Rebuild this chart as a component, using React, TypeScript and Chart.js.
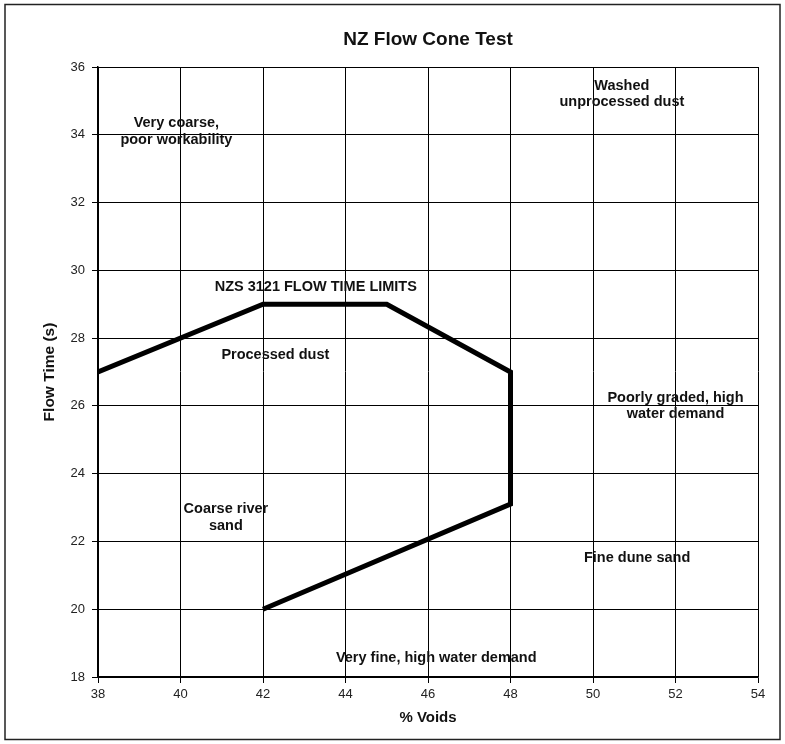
import React, { useEffect, useRef } from "react";
import { Chart, registerables } from "chart.js";

Chart.register(...registerables);

const chartTitle = "NZ Flow Cone Test";

const voids = [38, 42, 45, 48, 48, 42];
const flowTime = [27, 29, 29, 27, 23.1, 20];

const xTicks = [38, 40, 42, 44, 46, 48, 50, 52, 54];
const yTicks = [18, 20, 22, 24, 26, 28, 30, 32, 34, 36];

const noteTexts = [
  ["Washed", "unprocessed dust"],
  ["Very coarse,", "poor workability"],
  ["NZS 3121 FLOW TIME LIMITS"],
  ["Processed dust"],
  ["Poorly graded, high", "water demand"],
  ["Coarse river", "sand"],
  ["Fine dune sand"],
  ["Very fine, high water demand"],
];
const noteX = [50.7, 39.9, 43.28, 42.3, 52.0, 41.1, 51.07, 46.2];
const noteY = [35.2, 34.1, 29.5, 27.5, 26.0, 22.7, 21.5, 18.55];

const FONT = "'Liberation Sans', Arial, Helvetica, sans-serif";

const notesPlugin = {
  id: "notes",
  afterDatasetsDraw(chart: any) {
    const { ctx, scales } = chart;
    ctx.save();
    ctx.fillStyle = "#111";
    ctx.font = `bold 14.5px ${FONT}`;
    ctx.textAlign = "center";
    ctx.textBaseline = "middle";
    noteTexts.forEach((lines, i) => {
      const cx = scales.x.getPixelForValue(noteX[i]);
      const cy = scales.y.getPixelForValue(noteY[i]);
      const lh = 16.5;
      const start = cy - ((lines.length - 1) * lh) / 2;
      lines.forEach((t, j) => ctx.fillText(t, cx, start + j * lh));
    });
    ctx.restore();
  },
};

const titleFramePlugin = {
  id: "titleFrame",
  afterDraw(chart: any) {
    const { ctx, chartArea } = chart;
    ctx.save();
    ctx.fillStyle = "#111";
    ctx.font = `bold 19px ${FONT}`;
    ctx.textAlign = "center";
    ctx.textBaseline = "middle";
    ctx.fillText(chartTitle, (chartArea.left + chartArea.right) / 2, 40);
    ctx.strokeStyle = "#222";
    ctx.lineWidth = 1.5;
    ctx.strokeRect(5, 4.5, 775, 735);
    ctx.restore();
  },
};

export default function App() {
  const ref = useRef<HTMLCanvasElement>(null);
  useEffect(() => {
    document.body.style.margin = "0";
    const tickFont = { family: FONT, size: 13 };
    const chart = new Chart(ref.current!, {
      type: "line",
      data: {
        datasets: [
          {
            data: voids.map((v, i) => ({ x: v, y: flowTime[i] })),
            borderColor: "#000",
            borderWidth: 5,
            pointRadius: 0,
            tension: 0,
            fill: false,
            borderJoinStyle: "miter",
          } as any,
        ],
      },
      options: {
        animation: false,
        responsive: false,
        maintainAspectRatio: false,
        layout: { padding: { left: 38, right: 27, top: 67, bottom: 10 } },
        plugins: {
          legend: { display: false },
          tooltip: { enabled: false },
          title: { display: false },
        },
        scales: {
          x: {
            type: "linear",
            min: 38,
            max: 54,
            afterBuildTicks: (s: any) => {
              s.ticks = xTicks.map((v) => ({ value: v }));
            },
            afterFit: (s: any) => {
              s.height = 57;
            },
            ticks: { color: "#222", font: tickFont, padding: 4, maxRotation: 0 },
            grid: { color: "#000", lineWidth: 1, tickLength: 6, drawTicks: true },
            border: { color: "#000", width: 1.5 },
            title: {
              display: true,
              text: "% Voids",
              color: "#111",
              font: { family: FONT, size: 15, weight: "bold", lineHeight: 1.2 },
              padding: { top: 4, bottom: 7 },
            },
          },
          y: {
            type: "linear",
            min: 18,
            max: 36,
            afterBuildTicks: (s: any) => {
              s.ticks = yTicks.map((v) => ({ value: v }));
            },
            afterFit: (s: any) => {
              s.width = 60;
            },
            ticks: { color: "#222", font: tickFont, padding: 7 },
            grid: { color: "#000", lineWidth: 1, tickLength: 6, drawTicks: true },
            border: { color: "#000", width: 1.5 },
            title: {
              display: true,
              text: "Flow Time (s)",
              color: "#111",
              font: { family: FONT, size: 15.5, weight: "bold", lineHeight: 1.2 },
              padding: { top: 2.7, bottom: 2 },
            },
          },
        },
      },
      plugins: [notesPlugin, titleFramePlugin],
    });
    return () => chart.destroy();
  }, []);
  return (
    <div style={{ width: 785, height: 744, background: "#fff" }}>
      <canvas ref={ref} width={785} height={744} style={{ display: "block" }} />
    </div>
  );
}
